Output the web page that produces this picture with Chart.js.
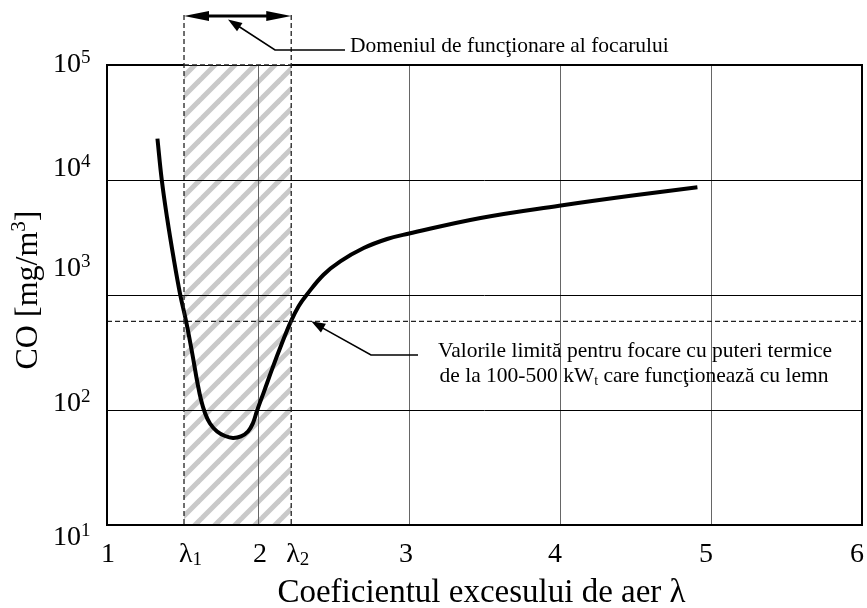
<!DOCTYPE html>
<html>
<head>
<meta charset="utf-8">
<script src="https://cdn.jsdelivr.net/npm/chart.js@4.4.0/dist/chart.umd.min.js"></script>
<style>
  html, body { margin: 0; padding: 0; background: #fff; }
</style>
</head>
<body>
<canvas id="chart-co" width="867" height="608"></canvas>
<script>
// excesul de aer λ si concentratia de CO (mg/m3)
const lambdaX = [1.334, 1.363, 1.398, 1.441, 1.484, 1.524, 1.564, 1.599, 1.623, 1.649, 1.682,
  1.729, 1.782, 1.834, 1.887, 1.934, 1.967, 1.993, 2.041, 2.094, 2.154, 2.218, 2.270, 2.324,
  2.434, 2.545, 2.700, 2.855, 2.994, 3.474, 3.995, 4.468, 4.910];
const coValues = [22900, 9940, 4680, 2100, 1020, 590, 313, 172, 122, 94.2, 76.3,
  65.0, 59.4, 57.1, 58.9, 65.0, 77.1, 98.0, 146, 228, 367, 590, 802, 1010,
  1500, 1960, 2560, 3070, 3410, 4680, 5980, 7300, 8650];

const xTicks = [1, 2, 3, 4, 5, 6];
const yTicks = [10, 100, 1000, 10000, 100000];
const yTickExp = ["1", "2", "3", "4", "5"];
const lambdaRange = [1.51, 2.22];   // λ1, λ2
const lambdaSub = ["1", "2"];
const limitCO = 590;                // valoarea limita

const xTitle = "Coeficientul excesului de aer λ";
const rangeNote = "Domeniul de funcţionare al focarului";
const limitNote1 = "Valorile limită pentru focare cu puteri termice";
const limitNote2 = ["de la 100-500 kW", "t", " care funcţionează cu lemn"];

const serif = '"Liberation Serif", "Times New Roman", serif';
const font = (px) => `${px}px ${serif}`;

// text cu indici / exponenti: [text, marime, ridicare]
function richWidth(ctx, pieces) {
  let w = 0;
  for (const [t, s] of pieces) {
    ctx.font = font(s);
    w += ctx.measureText(t).width;
  }
  return w;
}

function drawRich(ctx, pieces, x, y, align = "left") {
  let cx = x;
  const w = richWidth(ctx, pieces);
  if (align === "center") cx -= w / 2;
  if (align === "right") cx -= w;
  ctx.textAlign = "left";
  ctx.textBaseline = "alphabetic";
  for (const [t, s, rise = 0] of pieces) {
    ctx.font = font(s);
    ctx.fillText(t, cx, y - rise);
    cx += ctx.measureText(t).width;
  }
}

function arrowHead(ctx, fx, fy, tx, ty, len, half) {
  const a = Math.atan2(ty - fy, tx - fx);
  const c = Math.cos(a), s = Math.sin(a);
  ctx.beginPath();
  ctx.moveTo(tx, ty);
  ctx.lineTo(tx - len * c - half * s, ty - len * s + half * c);
  ctx.lineTo(tx - len * c + half * s, ty - len * s - half * c);
  ctx.closePath();
  ctx.fill();
}

function line(ctx, pts, width, dash = []) {
  ctx.lineWidth = width;
  ctx.setLineDash(dash);
  ctx.beginPath();
  ctx.moveTo(pts[0][0], pts[0][1]);
  for (let i = 1; i < pts.length; i++) ctx.lineTo(pts[i][0], pts[i][1]);
  ctx.stroke();
  ctx.setLineDash([]);
}

// hasura gri pentru zona de functionare
function makeHatch() {
  const p = 20;
  const c = document.createElement("canvas");
  c.width = p; c.height = p;
  const g = c.getContext("2d");
  g.strokeStyle = "#c9c9c9";
  g.lineWidth = 5;
  g.lineCap = "square";
  for (const o of [-p, 0, p]) {
    g.beginPath();
    g.moveTo(o, p);
    g.lineTo(o + p, 0);
    g.stroke();
  }
  return c;
}

const hatchPlugin = {
  id: "hatch",
  beforeDraw(chart) {
    const { ctx, chartArea, scales } = chart;
    const x1 = scales.x.getPixelForValue(lambdaRange[0]);
    const x2 = scales.x.getPixelForValue(lambdaRange[1]);
    ctx.save();
    ctx.fillStyle = ctx.createPattern(makeHatch(), "repeat");
    ctx.fillRect(x1, chartArea.top, x2 - x1, chartArea.bottom - chartArea.top);
    ctx.restore();
  },
};

const framePlugin = {
  id: "frame",
  afterDatasetsDraw(chart) {
    const { ctx, chartArea: a, scales } = chart;
    const x1 = scales.x.getPixelForValue(lambdaRange[0]);
    const x2 = scales.x.getPixelForValue(lambdaRange[1]);
    ctx.save();
    ctx.strokeStyle = "#000";
    line(ctx, [[x1, a.top], [a.left, a.top], [a.left, a.bottom], [a.right, a.bottom], [a.right, a.top], [x2, a.top]], 2);
    ctx.strokeStyle = "#222";
    line(ctx, [[x1, a.top], [x2, a.top]], 1.3, [5, 3]);
    ctx.restore();
  },
};

const labelsPlugin = {
  id: "labels",
  afterDraw(chart) {
    const { ctx, chartArea: a, scales } = chart;
    const xs = scales.x, ys = scales.y;
    ctx.save();
    ctx.fillStyle = "#000";

    // etichetele axei Y: 10^n
    const yNudge = [20, 1, -19, -4, 7];
    yTicks.forEach((v, i) => {
      drawRich(ctx, [["10", 28], [yTickExp[i], 19, 9]], 53, ys.getPixelForValue(v) + yNudge[i]);
    });

    // etichetele axei X
    const xNudge = [1, 2, -3, -5, -5, -5];
    xTicks.forEach((v, i) => {
      ctx.font = font(28);
      ctx.textAlign = "center";
      ctx.textBaseline = "alphabetic";
      ctx.fillText(String(v), xs.getPixelForValue(v) + xNudge[i], 562);
    });
    lambdaRange.forEach((v, i) => {
      drawRich(ctx, [["λ", 28], [lambdaSub[i], 19, -3]], xs.getPixelForValue(v) - 5, 562);
    });

    // titlurile axelor
    ctx.font = font(33);
    ctx.textAlign = "center";
    ctx.fillText(xTitle, (a.left + a.right) / 2 - 3, 602);

    ctx.save();
    ctx.translate(37, 290);
    ctx.rotate(-Math.PI / 2);
    drawRich(ctx, [["CO [mg/m", 32], ["3", 21, 12], ["]", 32]], 0, 0, "center");
    ctx.restore();

    // limitele λ1, λ2 si sageata dubla
    const x1 = xs.getPixelForValue(lambdaRange[0]);
    const x2 = xs.getPixelForValue(lambdaRange[1]);
    ctx.strokeStyle = "#222";
    for (const px of [x1, x2]) line(ctx, [[px, 15], [px, a.bottom]], 1.3, [5, 3]);

    ctx.strokeStyle = "#000";
    line(ctx, [[x1 + 15, 16], [x2 - 15, 16]], 2.8);
    arrowHead(ctx, x2, 16, x1, 16, 25, 5);
    arrowHead(ctx, x1, 16, x2, 16, 25, 5);

    // indicatorul pentru domeniul de functionare
    line(ctx, [[345, 50], [275, 50], [x1 + 48, 22]], 1.6);
    arrowHead(ctx, 275, 50, x1 + 44, 19.5, 14, 5);
    ctx.font = font(21.5);
    ctx.textAlign = "left";
    ctx.fillText(rangeNote, 350, 52);

    // indicatorul pentru valorile limita
    const ly = ys.getPixelForValue(limitCO);
    line(ctx, [[418, 355], [371, 355], [x2 + 24, ly + 2.5]], 1.6);
    arrowHead(ctx, 371, 355, x2 + 20, ly, 14, 5);
    ctx.font = font(21.5);
    ctx.textAlign = "center";
    ctx.fillText(limitNote1, 635, 357);
    drawRich(ctx, [[limitNote2[0], 21.5], [limitNote2[1], 14, -3], [limitNote2[2], 21.5]], 634, 382, "center");

    ctx.restore();
  },
};

const ctx = document.getElementById("chart-co").getContext("2d");

new Chart(ctx, {
  type: "line",
  data: {
    datasets: [
      {
        label: "CO",
        data: lambdaX.map((x, i) => ({ x, y: coValues[i] })),
        borderColor: "#000",
        borderWidth: 4,
        pointRadius: 0,
        tension: 0.4,
        borderCapStyle: "butt",
        borderJoinStyle: "round",
      },
      {
        label: "limita",
        data: [{ x: xTicks[0], y: limitCO }, { x: xTicks[xTicks.length - 1], y: limitCO }],
        borderColor: "#222",
        borderWidth: 1.3,
        borderDash: [5, 3],
        pointRadius: 0,
      },
    ],
  },
  options: {
    responsive: false,
    animation: false,
    devicePixelRatio: 1,
    layout: { padding: { left: 107, top: 65, right: 5, bottom: 83 } },
    plugins: {
      legend: { display: false },
      tooltip: { enabled: false },
    },
    scales: {
      x: {
        type: "linear",
        min: xTicks[0],
        max: xTicks[xTicks.length - 1],
        afterBuildTicks: (scale) => { scale.ticks = xTicks.map((v) => ({ value: v })); },
        ticks: { display: false },
        grid: { drawTicks: false, color: "#666", lineWidth: 1 },
        border: { display: false },
      },
      y: {
        type: "logarithmic",
        min: yTicks[0],
        max: yTicks[yTicks.length - 1],
        afterBuildTicks: (scale) => { scale.ticks = yTicks.map((v) => ({ value: v })); },
        ticks: { display: false },
        grid: { drawTicks: false, color: "#000", lineWidth: 1 },
        border: { display: false },
      },
    },
  },
  plugins: [hatchPlugin, framePlugin, labelsPlugin],
});
</script>
</body>
</html>
